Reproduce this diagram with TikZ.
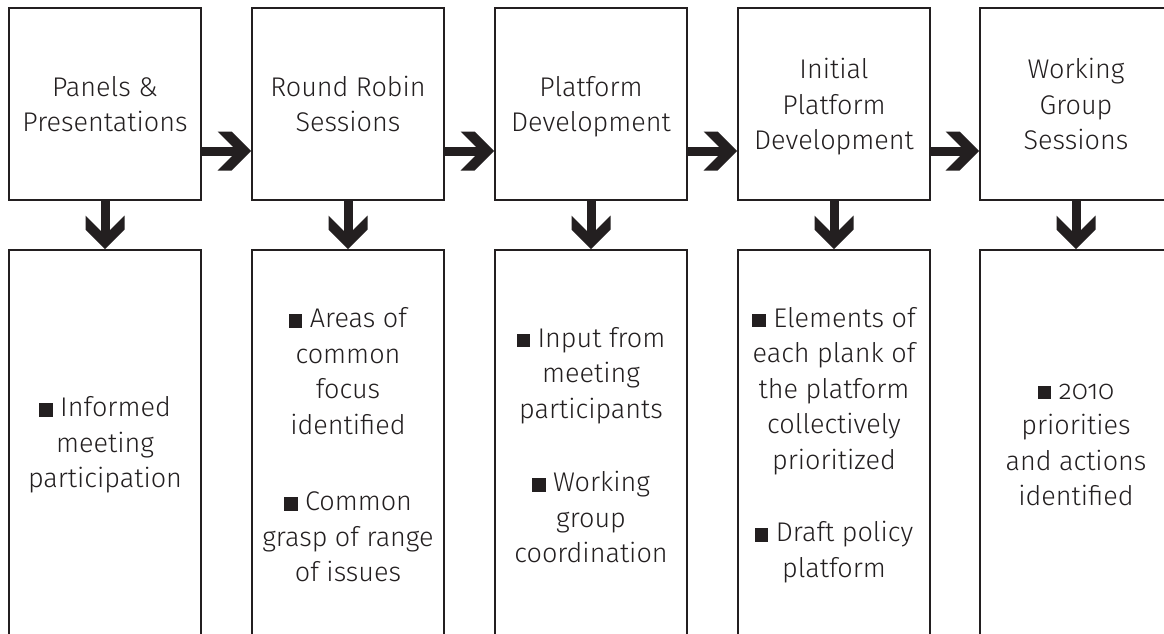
\documentclass[tikz,border=0pt]{standalone}
\usepackage{fontspec}
\setmainfont{Fira Sans Light}[Numbers=OldStyle]
\usetikzlibrary{arrows.meta}
\definecolor{ink}{HTML}{231F20}
\pgfdeclarearrow{
  name=Chev,
  setup code={
    \pgfarrowssettipend{0pt}
    \pgfarrowssetlineend{-10pt}
    \pgfarrowssetbackend{-33pt}
    \pgfarrowssetvisualbackend{-33pt}
    \pgfarrowshullpoint{0pt}{0pt}
    \pgfarrowsupperhullpoint{-33pt}{19.5pt}
  },
  drawing code={
    \pgfpathmoveto{\pgfqpoint{0pt}{0pt}}
    \pgfpathlineto{\pgfqpoint{-19.5pt}{19.5pt}}
    \pgfpathlineto{\pgfqpoint{-33.5pt}{19.5pt}}
    \pgfpathlineto{\pgfqpoint{-14pt}{0pt}}
    \pgfpathlineto{\pgfqpoint{-33.5pt}{-19.5pt}}
    \pgfpathlineto{\pgfqpoint{-19.5pt}{-19.5pt}}
    \pgfpathclose
    \pgfusepathqfill
  },
  defaults={}
}
\newcommand\bsq{\rule{0.5em}{0.5em}}
\tikzset{
  txt/.style={font=\fontsize{27}{35.5}\selectfont, text=ink, align=center},
  topbox/.style={txt, draw=ink, line width=1.6pt, minimum width=192pt, minimum height=192pt, inner sep=0pt},
  botbox/.style={txt, draw=ink, line width=1.6pt, minimum width=192pt, minimum height=390pt, inner sep=0pt},
  flow/.style={draw=ink, line width=9pt, -Chev}
}
\begin{document}
\begin{tikzpicture}[x=1pt, y=-1pt]
\useasboundingbox[fill=white] (0,0) rectangle (1164,633);
\node[topbox] (t1) at (105,104) {Panels \&\\Presentations};
\node[topbox] (t2) at (348,104) {Round Robin\\Sessions};
\node[topbox, text depth=0pt] (t3) at (591,104) {Platform\\Development};
\node[topbox, text depth=0pt] (t4) at (834,104) {Initial\\Platform\\Development};
\node[topbox] (t5) at (1076,104) {Working\\Group\\Sessions};
\node[botbox] (b1) at (105,445) {\bsq{} Informed\\meeting\\participation};
\node[botbox] (b2) at (348,445) {\bsq{} Areas of\\common\\focus\\identified\\[41pt]\bsq{} Common\\grasp of range\\of issues};
\node[botbox] (b3) at (591,445) {\bsq{} Input from\\meeting\\participants\\[38pt]\bsq{} Working\\group\\coordination};
\node[botbox] (b4) at (834,445) {\bsq{} Elements of\\each plank of\\the platform\\collectively\\prioritized\\[37pt]\bsq{} Draft policy\\platform};
\node[botbox] (b5) at (1076,445) {\bsq{} 2010\\priorities\\and actions\\identified};
\foreach \a/\b in {t1/t2,t2/t3,t3/t4,t4/t5}
  \draw[flow] ([yshift=-47pt]\a.east) -- ([yshift=-47pt]\b.west);
\foreach \i in {1,...,5}
  \draw[flow] (t\i.south) -- (b\i.north);
\end{tikzpicture}
\end{document}
